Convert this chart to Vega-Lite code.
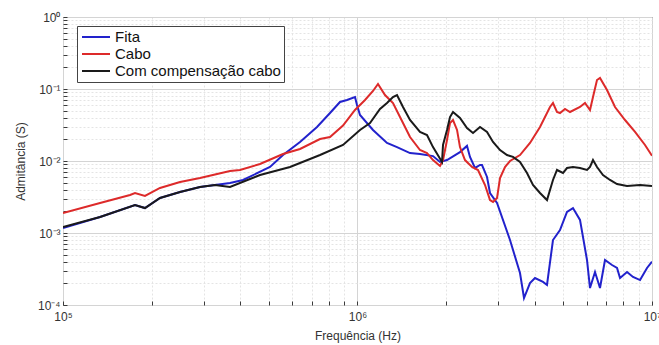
{
  "$schema": "https://vega.github.io/schema/vega-lite/v6.json",
  "width": 589,
  "height": 288,
  "autosize": {"type": "none"},
  "padding": {"left": 63, "top": 17, "right": 7, "bottom": 40},
  "background": "white",
  "config": {
    "view": {"stroke": "#3a3a3a", "strokeWidth": 1},
    "font": "Liberation Sans"
  },
  "data": {"values": [
    {"s":"Fita","f":1.0e5,"y":0.00117},{"s":"Fita","f":1.336e5,"y":0.00167},{"s":"Fita","f":1.756e5,"y":0.00245},{"s":"Fita","f":1.898e5,"y":0.00222},{"s":"Fita","f":2.135e5,"y":0.00306},{"s":"Fita","f":2.497e5,"y":0.00371},{"s":"Fita","f":2.919e5,"y":0.00435},{"s":"Fita","f":3.282e5,"y":0.00464},{"s":"Fita","f":3.69e5,"y":0.00495},{"s":"Fita","f":4.086e5,"y":0.00545},{"s":"Fita","f":5.045e5,"y":0.00825},{"s":"Fita","f":5.585e5,"y":0.0121},{"s":"Fita","f":6.38e5,"y":0.0184},{"s":"Fita","f":7.287e5,"y":0.0297},{"s":"Fita","f":8.066e5,"y":0.0464},{"s":"Fita","f":8.721e5,"y":0.066},{"s":"Fita","f":9.211e5,"y":0.0704},{"s":"Fita","f":9.806e5,"y":0.0774},{"s":"Fita","f":9.961e5,"y":0.06},{"s":"Fita","f":1.0196e6,"y":0.0435},{"s":"Fita","f":1.1288e6,"y":0.027},{"s":"Fita","f":1.2594e6,"y":0.0178},{"s":"Fita","f":1.3619e6,"y":0.0156},{"s":"Fita","f":1.5078e6,"y":0.0129},{"s":"Fita","f":1.63e6,"y":0.0125},{"s":"Fita","f":1.8047e6,"y":0.0117},{"s":"Fita","f":1.9062e6,"y":0.00969},{"s":"Fita","f":2.0135e6,"y":0.0103},{"s":"Fita","f":2.2284e6,"y":0.0133},{"s":"Fita","f":2.354e6,"y":0.0162},{"s":"Fita","f":2.4098e6,"y":0.0114},{"s":"Fita","f":2.5061e6,"y":0.008},{"s":"Fita","f":2.6062e6,"y":0.0088},{"s":"Fita","f":2.6474e6,"y":0.0088},{"s":"Fita","f":2.7529e6,"y":0.006},{"s":"Fita","f":2.8182e6,"y":0.00359},{"s":"Fita","f":2.9768e6,"y":0.00261},{"s":"Fita","f":3.2949e6,"y":0.000799},{"s":"Fita","f":3.5628e6,"y":0.000278},{"s":"Fita","f":3.6761e6,"y":0.000125},{"s":"Fita","f":3.8523e6,"y":0.000202},{"s":"Fita","f":4.0061e6,"y":0.000237},{"s":"Fita","f":4.2649e6,"y":0.000209},{"s":"Fita","f":4.3999e6,"y":0.00019},{"s":"Fita","f":4.6108e6,"y":0.000799},{"s":"Fita","f":4.8705e6,"y":0.0011},{"s":"Fita","f":5.1449e6,"y":0.00196},{"s":"Fita","f":5.3913e6,"y":0.00222},{"s":"Fita","f":5.695e6,"y":0.00152},{"s":"Fita","f":6.0158e6,"y":0.000422},{"s":"Fita","f":6.1585e6,"y":0.000172},{"s":"Fita","f":6.4043e6,"y":0.000287},{"s":"Fita","f":6.6592e6,"y":0.000172},{"s":"Fita","f":6.925e6,"y":0.000422},{"s":"Fita","f":7.3153e6,"y":0.000359},{"s":"Fita","f":7.6073e6,"y":0.000327},{"s":"Fita","f":7.788e6,"y":0.000237},{"s":"Fita","f":8.2262e6,"y":0.000287},{"s":"Fita","f":8.6217e6,"y":0.000245},{"s":"Fita","f":9.1072e6,"y":0.000222},{"s":"Fita","f":9.6177e6,"y":0.000327},{"s":"Fita","f":1.0e7,"y":0.0004},
    {"s":"Cabo","f":1.0e5,"y":0.0019},{"s":"Cabo","f":1.336e5,"y":0.00261},{"s":"Cabo","f":1.689e5,"y":0.00337},{"s":"Cabo","f":1.756e5,"y":0.00359},{"s":"Cabo","f":1.898e5,"y":0.00327},{"s":"Cabo","f":2.135e5,"y":0.00422},{"s":"Cabo","f":2.497e5,"y":0.00511},{"s":"Cabo","f":2.919e5,"y":0.00581},{"s":"Cabo","f":3.282e5,"y":0.0065},{"s":"Cabo","f":3.69e5,"y":0.00726},{"s":"Cabo","f":3.99e5,"y":0.0075},{"s":"Cabo","f":4.667e5,"y":0.00909},{"s":"Cabo","f":5.585e5,"y":0.0125},{"s":"Cabo","f":6.38e5,"y":0.0147},{"s":"Cabo","f":7.46e5,"y":0.0202},{"s":"Cabo","f":8.066e5,"y":0.0215},{"s":"Cabo","f":8.928e5,"y":0.031},{"s":"Cabo","f":9.806e5,"y":0.0511},{"s":"Cabo","f":1.0605e6,"y":0.0704},{"s":"Cabo","f":1.1288e6,"y":0.0939},{"s":"Cabo","f":1.1738e6,"y":0.1173},{"s":"Cabo","f":1.2398e6,"y":0.0825},{"s":"Cabo","f":1.3198e6,"y":0.0639},{"s":"Cabo","f":1.3942e6,"y":0.0408},{"s":"Cabo","f":1.5078e6,"y":0.0215},{"s":"Cabo","f":1.63e6,"y":0.0142},{"s":"Cabo","f":1.7219e6,"y":0.0129},{"s":"Cabo","f":1.8047e6,"y":0.0103},{"s":"Cabo","f":1.9062e6,"y":0.00852},{"s":"Cabo","f":1.9515e6,"y":0.0103},{"s":"Cabo","f":2.0135e6,"y":0.0196},{"s":"Cabo","f":2.0613e6,"y":0.0337},{"s":"Cabo","f":2.1103e6,"y":0.0371},{"s":"Cabo","f":2.1775e6,"y":0.027},{"s":"Cabo","f":2.2284e6,"y":0.0156},{"s":"Cabo","f":2.3174e6,"y":0.0103},{"s":"Cabo","f":2.4479e6,"y":0.00825},{"s":"Cabo","f":2.5657e6,"y":0.0075},{"s":"Cabo","f":2.7101e6,"y":0.00464},{"s":"Cabo","f":2.8182e6,"y":0.00287},{"s":"Cabo","f":2.8851e6,"y":0.0027},{"s":"Cabo","f":2.9768e6,"y":0.00306},{"s":"Cabo","f":3.0474e6,"y":0.00581},{"s":"Cabo","f":3.1685e6,"y":0.00825},{"s":"Cabo","f":3.2949e6,"y":0.01},{"s":"Cabo","f":3.5628e6,"y":0.0121},{"s":"Cabo","f":3.8523e6,"y":0.0178},{"s":"Cabo","f":4.1661e6,"y":0.0297},{"s":"Cabo","f":4.5043e6,"y":0.0562},{"s":"Cabo","f":4.6108e6,"y":0.0639},{"s":"Cabo","f":4.7576e6,"y":0.0479},{"s":"Cabo","f":4.8705e6,"y":0.0464},{"s":"Cabo","f":5.0649e6,"y":0.0528},{"s":"Cabo","f":5.267e6,"y":0.0479},{"s":"Cabo","f":5.695e6,"y":0.0562},{"s":"Cabo","f":5.9223e6,"y":0.0639},{"s":"Cabo","f":6.1585e6,"y":0.0511},{"s":"Cabo","f":6.3047e6,"y":0.0774},{"s":"Cabo","f":6.5047e6,"y":0.1334},{"s":"Cabo","f":6.6592e6,"y":0.1422},{"s":"Cabo","f":7.0345e6,"y":0.0968},{"s":"Cabo","f":7.489e6,"y":0.0562},{"s":"Cabo","f":8.0983e6,"y":0.0371},{"s":"Cabo","f":8.7579e6,"y":0.0253},{"s":"Cabo","f":9.468e6,"y":0.0167},{"s":"Cabo","f":1.0e7,"y":0.0118},
    {"s":"Com compensação cabo","f":1.0e5,"y":0.00121},{"s":"Com compensação cabo","f":1.336e5,"y":0.00167},{"s":"Com compensação cabo","f":1.756e5,"y":0.00245},{"s":"Com compensação cabo","f":1.898e5,"y":0.00222},{"s":"Com compensação cabo","f":2.135e5,"y":0.00306},{"s":"Com compensação cabo","f":2.497e5,"y":0.00371},{"s":"Com compensação cabo","f":2.919e5,"y":0.00435},{"s":"Com compensação cabo","f":3.282e5,"y":0.00464},{"s":"Com compensação cabo","f":3.69e5,"y":0.00435},{"s":"Com compensação cabo","f":4.667e5,"y":0.00639},{"s":"Com compensação cabo","f":5.9e5,"y":0.00825},{"s":"Com compensação cabo","f":7.46e5,"y":0.0121},{"s":"Com compensação cabo","f":8.928e5,"y":0.0167},{"s":"Com compensação cabo","f":1.0196e6,"y":0.027},{"s":"Com compensação cabo","f":1.1026e6,"y":0.0337},{"s":"Com compensação cabo","f":1.1923e6,"y":0.0528},{"s":"Com compensação cabo","f":1.2594e6,"y":0.0639},{"s":"Com compensação cabo","f":1.3198e6,"y":0.0774},{"s":"Com compensação cabo","f":1.3619e6,"y":0.0825},{"s":"Com compensação cabo","f":1.4273e6,"y":0.0562},{"s":"Com compensação cabo","f":1.5078e6,"y":0.0371},{"s":"Com compensação cabo","f":1.63e6,"y":0.0253},{"s":"Com compensação cabo","f":1.7219e6,"y":0.023},{"s":"Com compensação cabo","f":1.8047e6,"y":0.0156},{"s":"Com compensação cabo","f":1.9363e6,"y":0.00969},{"s":"Com compensação cabo","f":1.9515e6,"y":0.0167},{"s":"Com compensação cabo","f":2.0135e6,"y":0.027},{"s":"Com compensação cabo","f":2.0613e6,"y":0.0408},{"s":"Com compensação cabo","f":2.1103e6,"y":0.0479},{"s":"Com compensação cabo","f":2.2284e6,"y":0.0396},{"s":"Com compensação cabo","f":2.354e6,"y":0.0287},{"s":"Com compensação cabo","f":2.4671e6,"y":0.0245},{"s":"Com compensação cabo","f":2.6062e6,"y":0.0297},{"s":"Com compensação cabo","f":2.7529e6,"y":0.0253},{"s":"Com compensação cabo","f":2.8851e6,"y":0.0184},{"s":"Com compensação cabo","f":3.0474e6,"y":0.0142},{"s":"Com compensação cabo","f":3.2185e6,"y":0.0121},{"s":"Com compensação cabo","f":3.373e6,"y":0.0114},{"s":"Com compensação cabo","f":3.5628e6,"y":0.00969},{"s":"Com compensação cabo","f":3.7633e6,"y":0.00681},{"s":"Com compensação cabo","f":3.9437e6,"y":0.00464},{"s":"Com compensação cabo","f":4.1661e6,"y":0.00359},{"s":"Com compensação cabo","f":4.3999e6,"y":0.00287},{"s":"Com compensação cabo","f":4.6108e6,"y":0.00545},{"s":"Com compensação cabo","f":4.7576e6,"y":0.0075},{"s":"Com compensação cabo","f":4.9861e6,"y":0.00681},{"s":"Com compensação cabo","f":5.1449e6,"y":0.00799},{"s":"Com compensação cabo","f":5.3913e6,"y":0.00825},{"s":"Com compensação cabo","f":5.695e6,"y":0.00799},{"s":"Com compensação cabo","f":6.0158e6,"y":0.0075},{"s":"Com compensação cabo","f":6.1585e6,"y":0.00825},{"s":"Com compensação cabo","f":6.3047e6,"y":0.0103},{"s":"Com compensação cabo","f":6.5047e6,"y":0.00825},{"s":"Com compensação cabo","f":6.8174e6,"y":0.00639},{"s":"Com compensação cabo","f":7.2015e6,"y":0.00545},{"s":"Com compensação cabo","f":7.6073e6,"y":0.00479},{"s":"Com compensação cabo","f":8.2262e6,"y":0.0045},{"s":"Com compensação cabo","f":9.1072e6,"y":0.00464},{"s":"Com compensação cabo","f":1.0e7,"y":0.0045}
  ]},
  "mark": {"type": "line", "strokeWidth": 2, "clip": true},
  "encoding": {
    "x": {
      "field": "f", "type": "quantitative",
      "scale": {"type": "log", "domain": [100000, 10000000], "nice": false},
      "axis": {
        "title": "Frequência (Hz)",
        "titleFont": "Liberation Sans", "titleFontSize": 12, "titleFontWeight": "normal", "titleColor": "#333333",
        "titleY": 30, "titleBaseline": "middle",
        "values": [100000,200000,300000,400000,500000,600000,700000,800000,900000,1000000,2000000,3000000,4000000,5000000,6000000,7000000,8000000,9000000,10000000],
        "labelExpr": "abs(log(datum.value)/LN10 - round(log(datum.value)/LN10)) > 0.001 ? '' : '10' + substring('⁰¹²³⁴⁵⁶⁷⁸⁹', round(log(datum.value)/LN10), round(log(datum.value)/LN10) + 1)",
        "labelOverlap": false, "labelBound": false, "labelFlush": false,
        "labelFont": "Liberation Sans", "labelFontSize": 12, "labelColor": "#333333", "labelPadding": 10,
        "domain": false,
        "tickSize": -4, "tickColor": "#3a3a3a",
        "grid": true,
        "gridColor": {"condition": {"test": "abs(log(datum.value)/LN10 - round(log(datum.value)/LN10)) < 0.001", "value": "#d4d4d4"}, "value": "#e4e4e4"},
        "gridDash": {"condition": {"test": "abs(log(datum.value)/LN10 - round(log(datum.value)/LN10)) < 0.001", "value": []}, "value": [2, 2]}
      }
    },
    "y": {
      "field": "y", "type": "quantitative",
      "scale": {"type": "log", "domain": [0.0001, 1], "nice": false},
      "axis": {
        "title": "Admitância (S)",
        "titleFont": "Liberation Sans", "titleFontSize": 12, "titleFontWeight": "normal", "titleColor": "#333333",
        "titleX": -43, "titleY": 144, "titleBaseline": "middle",
        "values": [0.0001,0.0002,0.0003,0.0004,0.0005,0.0006,0.0007,0.0008,0.0009,0.001,0.002,0.003,0.004,0.005,0.006,0.007,0.008,0.009,0.01,0.02,0.03,0.04,0.05,0.06,0.07,0.08,0.09,0.1,0.2,0.3,0.4,0.5,0.6,0.7,0.8,0.9,1],
        "labelExpr": "abs(log(datum.value)/LN10 - round(log(datum.value)/LN10)) > 0.001 ? '' : '10' + (round(log(datum.value)/LN10) < 0 ? '⁻' : '') + substring('⁰¹²³⁴⁵⁶⁷⁸⁹', abs(round(log(datum.value)/LN10)), abs(round(log(datum.value)/LN10)) + 1)",
        "labelOverlap": false, "labelBound": false, "labelFlush": false,
        "labelFont": "Liberation Sans", "labelFontSize": 12, "labelColor": "#333333", "labelPadding": 7,
        "domain": false,
        "tickSize": -4, "tickColor": "#3a3a3a",
        "grid": true,
        "gridColor": {"condition": {"test": "abs(log(datum.value)/LN10 - round(log(datum.value)/LN10)) < 0.001", "value": "#d4d4d4"}, "value": "#e4e4e4"},
        "gridDash": {"condition": {"test": "abs(log(datum.value)/LN10 - round(log(datum.value)/LN10)) < 0.001", "value": []}, "value": [2, 2]}
      }
    },
    "color": {
      "field": "s", "type": "nominal",
      "scale": {"domain": ["Fita", "Cabo", "Com compensação cabo"], "range": ["#2222cc", "#dd2a2a", "#1a1a1a"]},
      "legend": {
        "title": null, "orient": "none", "legendX": 14, "legendY": 9,
        "direction": "vertical",
        "fillColor": "white", "strokeColor": "#444444", "padding": 3,
        "symbolType": "M-2,0H2", "symbolStrokeWidth": 2, "symbolSize": 196, "symbolOffset": 8,
        "labelFont": "Liberation Sans", "labelFontSize": 15, "labelColor": "#111111", "labelLimit": 400,
        "rowPadding": 1, "labelOffset": 11
      }
    }
  }
}
